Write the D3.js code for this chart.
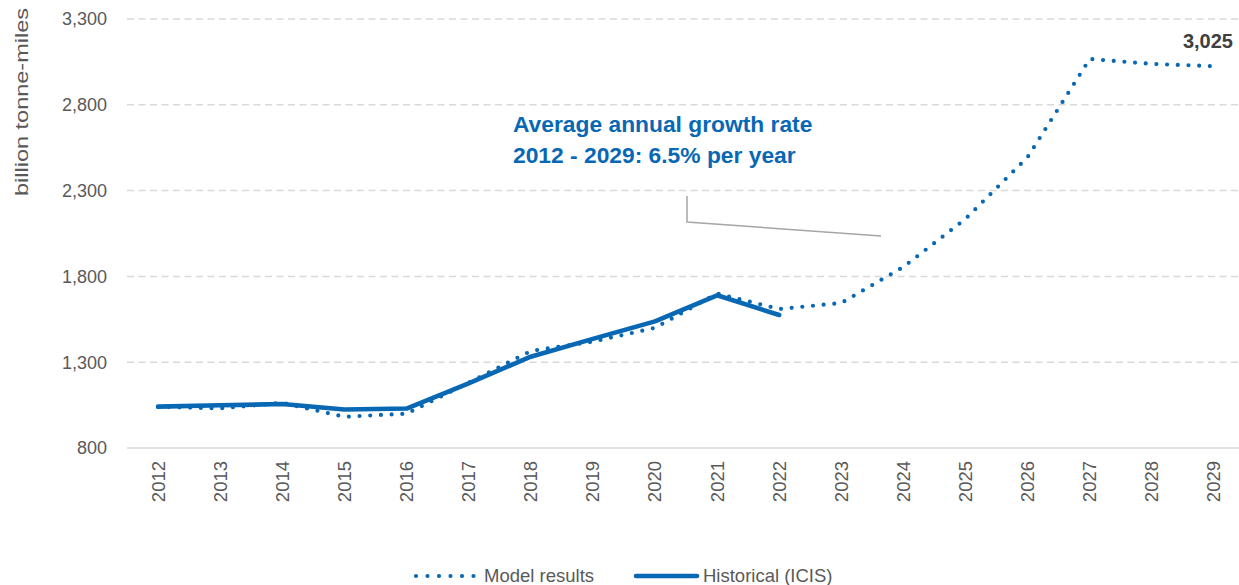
<!DOCTYPE html>
<html>
<head>
<meta charset="utf-8">
<script src="https://cdn.jsdelivr.net/npm/d3@7"></script>
<style>
  html, body { margin: 0; padding: 0; background: #fff; }
  svg { display: block; font-family: "Liberation Sans", Arial, sans-serif; }
</style>
</head>
<body>
<svg id="chart" width="1239" height="585"></svg>
<script>
// Seaborne tonne-miles: model output vs. historical record
const years = [2012, 2013, 2014, 2015, 2016, 2017, 2018, 2019, 2020,
               2021, 2022, 2023, 2024, 2025, 2026, 2027, 2028, 2029];
const modelResults = [1040, 1031, 1063, 982, 1000, 1180, 1365, 1420, 1500,
                      1700, 1610, 1645, 1855, 2135, 2495, 3067, 3038, 3025];
const historicalYears = [2012, 2013, 2014, 2015, 2016, 2017, 2018, 2019, 2020, 2021, 2022];
const historicalICIS = [1041, 1049, 1056, 1024, 1030, 1177, 1332, 1436, 1538, 1690, 1575];
const yTicks = [800, 1300, 1800, 2300, 2800, 3300];
const seriesNames = ["Model results", "Historical (ICIS)"];
const annotationLines = ["Average annual growth rate", "2012 - 2029: 6.5% per year"];
const yTitle = "billion tonne-miles";

const blue = "#0868b4";
const grey = "#595959";
const gridGrey = "#d9d9d9";

const svg = d3.select("#chart");

const x = d3.scalePoint().domain(years).range([127, 1245]).padding(0.5);
const y = d3.scaleLinear().domain([800, 3300]).range([448, 19]);

// horizontal gridlines
svg.append("g")
  .selectAll("line")
  .data(yTicks.filter(d => d > 800))
  .join("line")
  .attr("x1", 127).attr("x2", 1239)
  .attr("y1", d => y(d)).attr("y2", d => y(d))
  .attr("stroke", gridGrey).attr("stroke-width", 1.5)
  .attr("stroke-dasharray", "7,4.5");

// category axis baseline
svg.append("line")
  .attr("x1", 127).attr("x2", 1239)
  .attr("y1", y(800)).attr("y2", y(800))
  .attr("stroke", gridGrey).attr("stroke-width", 1.5);

// y tick labels
svg.append("g")
  .selectAll("text")
  .data(yTicks)
  .join("text")
  .attr("x", 107).attr("y", d => y(d))
  .attr("dy", "0.35em")
  .attr("text-anchor", "end")
  .attr("font-size", 18)
  .attr("fill", grey)
  .text(d => d3.format(",")(d));

// x tick labels, rotated
svg.append("g")
  .selectAll("text")
  .data(years)
  .join("text")
  .attr("transform", d => `translate(${x(d)},461) rotate(-90)`)
  .attr("dy", "0.35em")
  .attr("text-anchor", "end")
  .attr("font-size", 18.5)
  .attr("fill", grey)
  .text(d => d);

// y axis title
svg.append("text")
  .attr("transform", "translate(21,102) rotate(-90)")
  .attr("dy", "0.35em")
  .attr("text-anchor", "middle")
  .attr("font-size", 19)
  .attr("fill", grey)
  .attr("textLength", 188)
  .attr("lengthAdjust", "spacingAndGlyphs")
  .text(yTitle);

const line = d3.line().x(d => x(d[0])).y(d => y(d[1]));

// model results: dotted
svg.append("path")
  .datum(years.map((yr, i) => [yr, modelResults[i]]))
  .attr("d", line)
  .attr("fill", "none")
  .attr("stroke", blue)
  .attr("stroke-width", 4.2)
  .attr("stroke-linecap", "round")
  .attr("stroke-dasharray", "0,10.7");

// historical: solid
svg.append("path")
  .datum(historicalYears.map((yr, i) => [yr, historicalICIS[i]]))
  .attr("d", line)
  .attr("fill", "none")
  .attr("stroke", blue)
  .attr("stroke-width", 4.6)
  .attr("stroke-linejoin", "round")
  .attr("stroke-linecap", "round");

// end value label
svg.append("text")
  .attr("x", 1233).attr("y", 48)
  .attr("text-anchor", "end")
  .attr("font-size", 20)
  .attr("font-weight", "bold")
  .attr("fill", "#404040")
  .text(d3.format(",")(modelResults[modelResults.length - 1]));

// growth-rate callout
svg.append("g")
  .selectAll("text")
  .data(annotationLines)
  .join("text")
  .attr("x", 513)
  .attr("y", (d, i) => 131.5 + i * 31)
  .attr("font-size", 22.8)
  .attr("font-weight", "bold")
  .attr("fill", blue)
  .text(d => d);

svg.append("polyline")
  .attr("points", "687,196 687,222 881,236")
  .attr("fill", "none")
  .attr("stroke", "#a6a6a6")
  .attr("stroke-width", 1.5);

// legend
const legend = svg.append("g");
legend.append("line")
  .attr("x1", 416).attr("x2", 474).attr("y1", 576).attr("y2", 576)
  .attr("stroke", blue).attr("stroke-width", 4.2)
  .attr("stroke-linecap", "round").attr("stroke-dasharray", "0,11.5");
legend.append("text")
  .attr("x", 484).attr("y", 582)
  .attr("font-size", 18.5).attr("fill", grey)
  .text(seriesNames[0]);
legend.append("line")
  .attr("x1", 636).attr("x2", 697).attr("y1", 576).attr("y2", 576)
  .attr("stroke", blue).attr("stroke-width", 4.6)
  .attr("stroke-linecap", "round");
legend.append("text")
  .attr("x", 703).attr("y", 582)
  .attr("font-size", 18.5).attr("fill", grey)
  .text(seriesNames[1]);
</script>
</body>
</html>
